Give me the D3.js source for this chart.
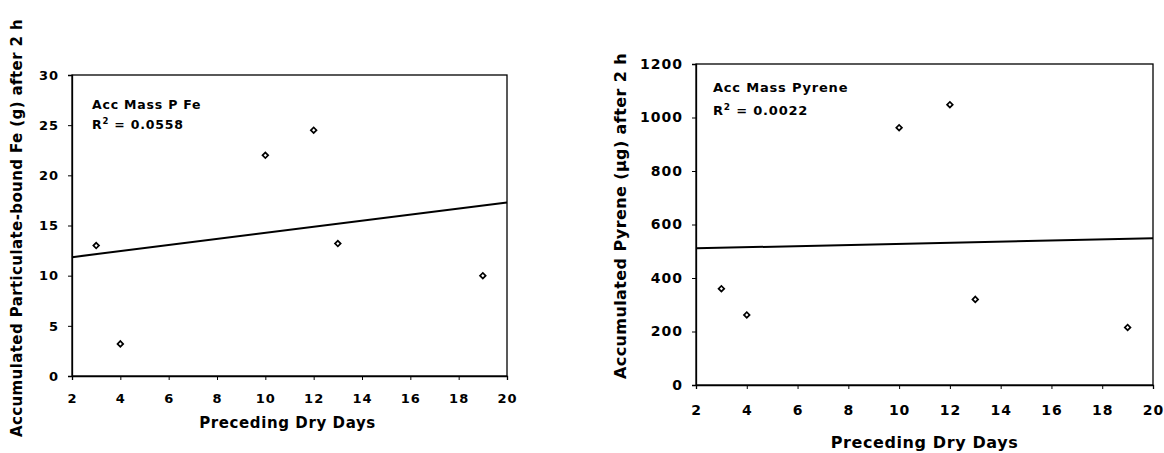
<!DOCTYPE html>
<html>
<head>
<meta charset="utf-8">
<script src="https://cdn.jsdelivr.net/npm/d3@7"></script>
<style>
  body { margin: 0; background: #fff; }
  svg { display: block; font-family: "DejaVu Sans", Arial, sans-serif; font-weight: bold; }
  .tick text { font-family: "DejaVu Sans", Arial, sans-serif; font-weight: bold; }
</style>
</head>
<body>
<svg id="chart" width="1164" height="453"></svg>
<script>
// shared x values
var dryDays = [3, 4, 10, 12, 13, 19];
var xTicks = [2, 4, 6, 8, 10, 12, 14, 16, 18, 20];

// left panel
var feMass = [13, 3.2, 22, 24.5, 13.2, 10];
var feTicks = [0, 5, 10, 15, 20, 25, 30];

// right panel
var pyreneMass = [360, 262, 962, 1048, 320, 215];
var pyreneTicks = [0, 200, 400, 600, 800, 1000, 1200];

var svg = d3.select("#chart");

function fit(xs, ys) {
  var mx = d3.mean(xs), my = d3.mean(ys);
  var sxy = d3.sum(xs, function (x, i) { return (x - mx) * (ys[i] - my); });
  var sxx = d3.sum(xs, function (x) { return (x - mx) * (x - mx); });
  var b = sxy / sxx;
  return function (x) { return my + b * (x - mx); };
}

function drawPanel(opt) {
  var x = d3.scaleLinear().domain([2, 20]).range([opt.left, opt.right]);
  var y = d3.scaleLinear().domain([0, opt.yMax]).range([opt.bottom, opt.top]);
  var g = svg.append("g");

  // frame
  g.append("rect")
    .attr("x", opt.left)
    .attr("y", opt.top)
    .attr("width", opt.right - opt.left)
    .attr("height", opt.bottom - opt.top)
    .attr("fill", "none")
    .attr("stroke", "#000")
    .attr("stroke-width", 1.3);

  var xAxis = g.append("g")
    .attr("transform", "translate(0," + opt.bottom + ")")
    .call(d3.axisBottom(x).tickValues(xTicks).tickFormat(d3.format("d")).tickSize(4).tickPadding(opt.xPad));
  var yAxis = g.append("g")
    .attr("transform", "translate(" + opt.left + ",0)")
    .call(d3.axisLeft(y).tickValues(opt.yTicks).tickFormat(d3.format("d")).tickSize(4).tickPadding(opt.yPad));

  [xAxis, yAxis].forEach(function (a) {
    a.attr("font-family", null).attr("font-size", opt.tickSize);
    a.select(".domain").attr("stroke", "#000").attr("stroke-width", 1.3);
    a.selectAll(".tick line").attr("stroke", "#000");
    a.selectAll(".tick text")
      .attr("fill", "#000")
      .attr("font-size", opt.tickSize)
      .attr("font-weight", "bold")
      .attr("letter-spacing", 1);
  });

  // trend line
  var f = fit(dryDays, opt.values);
  g.append("line")
    .attr("x1", x(2)).attr("y1", y(f(2)))
    .attr("x2", x(20)).attr("y2", y(f(20)))
    .attr("stroke", "#000")
    .attr("stroke-width", 2);

  // markers: open diamonds
  var diamond = d3.symbol().type(d3.symbolSquare).size(16);
  g.selectAll("path.pt")
    .data(opt.values)
    .join("path")
      .attr("class", "pt")
      .attr("d", diamond)
      .attr("transform", function (d, i) { return "translate(" + x(dryDays[i]) + "," + y(d) + ") rotate(45)"; })
      .attr("fill", "#fff")
      .attr("stroke", "#000")
      .attr("stroke-width", 1.7);

  // annotation
  g.append("text")
    .attr("x", opt.noteX).attr("y", opt.noteY)
    .style("font-size", opt.noteSize + "px")
    .style("letter-spacing", "0.8px")
    .text(opt.note);
  var r2 = g.append("text")
    .attr("x", opt.noteX).attr("y", opt.noteY + opt.noteGap)
    .style("font-size", opt.noteSize + "px")
    .style("letter-spacing", "0.8px");
  r2.append("tspan").text("R");
  r2.append("tspan").attr("dy", -5).style("font-size", (opt.noteSize - 4) + "px").text("2");
  r2.append("tspan").attr("dy", 5).text(" = " + opt.r2);

  // axis titles
  g.append("text")
    .attr("x", (opt.left + opt.right) / 2 + opt.xTitleShift)
    .attr("y", opt.xTitleY)
    .attr("text-anchor", "middle")
    .style("font-size", opt.titleSize + "px")
    .style("letter-spacing", "0.6px")
    .text("Preceding Dry Days");
  g.append("text")
    .attr("transform", "translate(" + opt.yTitleX + "," + opt.yTitleY + ") rotate(-90)")
    .attr("text-anchor", "middle")
    .style("font-size", opt.titleSize + "px")
    .style("letter-spacing", "0.4px")
    .text(opt.yTitle);
}

drawPanel({
  left: 72, right: 507, top: 75, bottom: 376,
  yMax: 30, yTicks: feTicks, values: feMass,
  tickSize: 13, xPad: 14, yPad: 9,
  note: "Acc Mass P Fe", r2: "0.0558", noteX: 92, noteY: 109, noteGap: 20, noteSize: 12.5,
  titleSize: 15, xTitleY: 428, xTitleShift: -2,
  yTitle: "Accumulated Particulate-bound Fe (g) after 2 h", yTitleX: 22, yTitleY: 228
});

drawPanel({
  left: 696, right: 1153, top: 64, bottom: 385,
  yMax: 1200, yTicks: pyreneTicks, values: pyreneMass,
  tickSize: 14, xPad: 16, yPad: 9,
  note: "Acc Mass Pyrene", r2: "0.0022", noteX: 713, noteY: 92, noteGap: 23, noteSize: 13,
  titleSize: 16, xTitleY: 448, xTitleShift: 0,
  yTitle: "Accumulated Pyrene (\u00b5g) after 2 h", yTitleX: 626, yTitleY: 216
});
</script>
</body>
</html>
